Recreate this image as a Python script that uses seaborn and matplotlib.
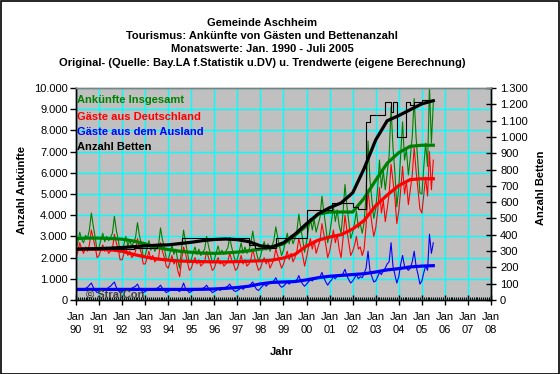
import numpy as np
import pandas as pd
import matplotlib
matplotlib.use("Agg")
import matplotlib.pyplot as plt
import matplotlib.dates as mdates
import seaborn as sns
from matplotlib.ticker import FuncFormatter, MultipleLocator
from matplotlib.patches import Rectangle

# ---------------- data ----------------
# Gäste aus Deutschland, monthly Jan 1990 - Jul 2005
deu = [
    2000, 2300, 2700, 2400, 2200, 2500, 2300, 2600, 3300, 2900, 2500, 2000,  # 1990
    2100, 2400, 2600, 2300, 2500, 2200, 2300, 2400, 3100, 2700, 2400, 1900,  # 1991
    1900, 2200, 2500, 2100, 2300, 2000, 2100, 2300, 2900, 2500, 2200, 1700,  # 1992
    1700, 2000, 2300, 1900, 2100, 1800, 1900, 2000, 2700, 2300, 2000, 1600,  # 1993
    1500, 1800, 2100, 1700, 1900, 1400, 1100, 1900, 2500, 2200, 1800, 1400,  # 1994
    1500, 1800, 2000, 1700, 1900, 1600, 1700, 1800, 2300, 2000, 1700, 1400,  # 1995
    1500, 1800, 2000, 1700, 1800, 1600, 1700, 1800, 2200, 1900, 1700, 1400,  # 1996
    1500, 1800, 2100, 1700, 1900, 1600, 1700, 1900, 2400, 2000, 1700, 1400,  # 1997
    1500, 1800, 2000, 1700, 1900, 1500, 1700, 1900, 2400, 2100, 1800, 1500,  # 1998
    1700, 2000, 2300, 1900, 2200, 1800, 2000, 2300, 2900, 2500, 2100, 1600,  # 1999
    2000, 2500, 2900, 2400, 2800, 2200, 2500, 2800, 3600, 3100, 2600, 2000,  # 2000
    2300, 2800, 3300, 2700, 3100, 2400, 2000, 2900, 4000, 3300, 2700, 2100,  # 2001
    2300, 2600, 3000, 2400, 2500, 2100, 2400, 3500, 5200, 4300, 3600, 3000,  # 2002
    3400, 4200, 5300, 4100, 4700, 3700, 4300, 5000, 6400, 5600, 4800, 3600,  # 2003
    4200, 5200, 6300, 5000, 5600, 4500, 5200, 5900, 7200, 6100, 5200, 4300,  # 2004
    4100, 5000, 5800, 4900, 7000, 5200, 6600,                                # 2005
]
# Gäste aus dem Ausland, monthly
aus = [
    400, 450, 500, 450, 500, 550, 600, 700, 800, 600, 450, 350,
    400, 450, 550, 450, 500, 600, 650, 750, 850, 600, 450, 350,
    400, 450, 500, 450, 500, 550, 600, 650, 750, 550, 450, 350,
    400, 450, 500, 450, 500, 500, 550, 600, 700, 550, 450, 350,
    400, 450, 500, 450, 500, 450, 400, 550, 800, 550, 450, 350,
    400, 450, 500, 450, 500, 500, 550, 600, 700, 550, 450, 350,
    400, 450, 550, 450, 550, 550, 600, 650, 750, 600, 450, 400,
    450, 500, 600, 500, 600, 600, 650, 750, 850, 650, 500, 450,
    550, 650, 750, 650, 750, 800, 850, 900, 1050, 850, 700, 600,
    650, 750, 850, 750, 850, 850, 900, 950, 1150, 900, 750, 650,
    750, 850, 950, 900, 1000, 1000, 1050, 1100, 1300, 1050, 850, 700,
    850, 950, 1100, 1000, 1150, 1100, 1150, 1250, 1450, 1150, 950, 800,
    900, 1050, 1200, 1000, 1100, 1050, 1250, 1500, 2300, 1400, 1100, 850,
    900, 1100, 1300, 1200, 1400, 1500, 1700, 1800, 2700, 1600, 1200, 800,
    1100, 1700, 2100, 1600, 1500, 1400, 1500, 1800, 2300, 1600, 1200, 750,
    900, 1300, 1600, 1400, 3100, 2200, 2700,
]

# Anzahl Betten (monthly original values, given as level changes)
bed_dates = ["1990-01", "1992-07", "1993-07", "1994-08", "1997-07", "1997-10",
             "1998-09", "2000-01", "2001-02", "2002-01", "2002-04", "2002-08",
             "2002-10", "2003-06", "2003-09", "2003-10", "2003-12", "2004-05",
             "2004-07", "2004-09", "2005-01", "2005-07"]
bed_levels = [310, 320, 345, 380, 335, 318, 380, 552, 597, 570, 555, 1094,
              1135, 1217, 1150, 1217, 1002, 1217, 1195, 1217, 1225, 1225]

# Trend values (half-yearly)
trend_dates = pd.date_range("1990-01-01", "2005-07-01", freq="6MS")
trend_total = [2900, 2920, 2920, 2900, 2870, 2780, 2650, 2480, 2380, 2300,
               2250, 2210, 2200, 2220, 2260, 2320, 2400, 2480, 2650, 3050,
               3500, 4050, 4150, 4150, 4150, 4800, 5650, 6450, 6950, 7250,
               7300, 7300]
trend_deu = [2400, 2400, 2390, 2370, 2300, 2150, 2030, 1940, 1880, 1840,
             1820, 1810, 1800, 1800, 1810, 1830, 1850, 1880, 1980, 2150,
             2550, 2820, 2970, 3080, 3350, 3750, 4450, 4950, 5400, 5680,
             5720, 5720]
trend_aus = [500, 500, 500, 500, 500, 500, 500, 500, 500, 500,
             500, 505, 520, 550, 590, 650, 760, 830, 850, 870,
             950, 1050, 1120, 1160, 1200, 1240, 1320, 1420, 1480, 1560,
             1600, 1620]
trend_beds = [312, 314, 315, 318, 322, 327, 332, 336, 338, 346,
              354, 364, 371, 374, 370, 358, 332, 325, 351, 403,
              468, 527, 566, 595, 657, 806, 982, 1099, 1131, 1167,
              1203, 1222]

title_lines = ["Gemeinde Aschheim",
               "Tourismus: Ankünfte von Gästen und Bettenanzahl",
               "Monatswerte: Jan. 1990 - Juli 2005",
               "Original- (Quelle: Bay.LA f.Statistik u.DV) u. Trendwerte (eigene Berechnung)"]
legend_labels = ["Ankünfte Insgesamt", "Gäste aus Deutschland",
                 "Gäste aus dem Ausland", "Anzahl Betten"]

# ---------------- build tables ----------------
months = pd.date_range("1990-01-01", periods=len(deu), freq="MS")
total = np.add(deu, aus)
raw = pd.DataFrame({"date": months, "deu": deu, "aus": aus, "total": total})
beds_raw = pd.DataFrame({"date": pd.to_datetime(bed_dates), "beds": bed_levels})
trend = pd.DataFrame({"date": trend_dates, "total": trend_total, "deu": trend_deu,
                      "aus": trend_aus, "beds": trend_beds})

# ---------------- figure ----------------
W, H = 560, 374
fig = plt.figure(figsize=(W / 100, H / 100), dpi=100)
fig.patch.set_facecolor("white")
fig.add_artist(Rectangle((0.5 / W, 0.5 / H), 1 - 1.5 / W, 1 - 1.5 / H, transform=fig.transFigure,
                         fill=False, edgecolor="black", linewidth=1.2))

L, R, T, B = 76, 491, 88, 300
ax = fig.add_axes([L / W, 1 - B / H, (R - L) / W, (B - T) / H])
ax.set_facecolor("#C0C0C0")
ax2 = ax.twinx()

FONT = "Liberation Sans"
GREEN, RED, BLUE = "#008000", "#FF0000", "#0000FF"
thin, thick = 0.8, 2.3

sns.lineplot(data=raw, x="date", y="total", ax=ax, color=GREEN, lw=thin, estimator=None)
sns.lineplot(data=raw, x="date", y="deu", ax=ax, color=RED, lw=thin, estimator=None)
sns.lineplot(data=raw, x="date", y="aus", ax=ax, color=BLUE, lw=thin, estimator=None)
sns.lineplot(data=trend, x="date", y="total", ax=ax, color=GREEN, lw=thick, estimator=None)
sns.lineplot(data=trend, x="date", y="deu", ax=ax, color=RED, lw=thick, estimator=None)
sns.lineplot(data=trend, x="date", y="aus", ax=ax, color=BLUE, lw=thick, estimator=None)
sns.lineplot(data=beds_raw, x="date", y="beds", ax=ax2, color="black", lw=thin,
             estimator=None, drawstyle="steps-post")
sns.lineplot(data=trend, x="date", y="beds", ax=ax2, color="black", lw=thick, estimator=None)

xmin, xmax = pd.Timestamp("1990-01-01"), pd.Timestamp("2008-01-01")
ax.set_xlim(xmin, xmax)
ax.set_ylim(0, 10000)
ax2.set_ylim(0, 1300)

ax.xaxis.set_major_locator(mdates.YearLocator())
ax.xaxis.set_major_formatter(mdates.DateFormatter("Jan\n%y"))
ax.xaxis.set_minor_locator(mdates.MonthLocator())
ax.yaxis.set_major_locator(MultipleLocator(1000))
ax2.yaxis.set_major_locator(MultipleLocator(100))
dotfmt = FuncFormatter(lambda v, p: f"{v:,.0f}".replace(",", "."))
ax.yaxis.set_major_formatter(dotfmt)
ax2.yaxis.set_major_formatter(dotfmt)

ax.set_axisbelow(True)
ax.grid(True, which="major", color="#00FFFF", lw=1.0)
ax2.grid(False)

for a in (ax, ax2):
    for s in a.spines.values():
        s.set_linewidth(1.0)
    a.spines["top"].set_color("#808080")
ax.spines["left"].set_color("black")
ax.spines["bottom"].set_color("black")
ax2.spines["right"].set_color("black")

ax.tick_params(axis="y", which="major", direction="out", length=4, width=1,
               labelsize=8, pad=2, colors="black")
ax.tick_params(axis="x", which="major", direction="inout", length=7, width=1,
               labelsize=8, pad=5)
ax.tick_params(axis="x", which="minor", direction="in", length=2, width=0.8)
ax2.tick_params(axis="y", which="major", direction="inout", length=7, width=1,
                labelsize=8, pad=3)
for lab in ax.get_xticklabels() + ax.get_yticklabels() + ax2.get_yticklabels():
    lab.set_fontfamily(FONT)
for lab in ax.get_xticklabels():
    lab.set_linespacing(1.45)

ax.set_xlabel("")
ax.set_ylabel("")
ax2.set_ylabel("")

# titles
for i, line in enumerate(title_lines):
    fig.text(262 / W, 1 - (22.7 + 13.3 * i) / H, line, ha="center", va="center",
             fontsize=8, fontweight="bold", family=FONT)

# axis titles
fig.text(22 / W, 1 - 190 / H, "Anzahl Ankünfte", rotation=90, ha="center", va="center",
         fontsize=8, fontweight="bold", family=FONT)
fig.text(541 / W, 1 - 188 / H, "Anzahl Betten", rotation=90, ha="center", va="center",
         fontsize=8, fontweight="bold", family=FONT)
fig.text(282 / W, 1 - 352 / H, "Jahr", ha="center", va="center",
         fontsize=8, fontweight="bold", family=FONT)

# legend as coloured text
for lab, col, ypx in zip(legend_labels, [GREEN, RED, BLUE, "black"], [100, 117, 132, 147]):
    ax.text(0.002, (B - ypx) / (B - T), lab, transform=ax.transAxes, color=col,
            fontsize=8, fontweight="bold", family=FONT, ha="left", va="center")

ax.text((86 - L) / (R - L), (B - 295) / (B - T), "© StratCon", transform=ax.transAxes,
        color="#404040", fontsize=8, fontweight="bold", family=FONT, ha="left", va="center")

fig.savefig("out.png", dpi=100, facecolor="white")
